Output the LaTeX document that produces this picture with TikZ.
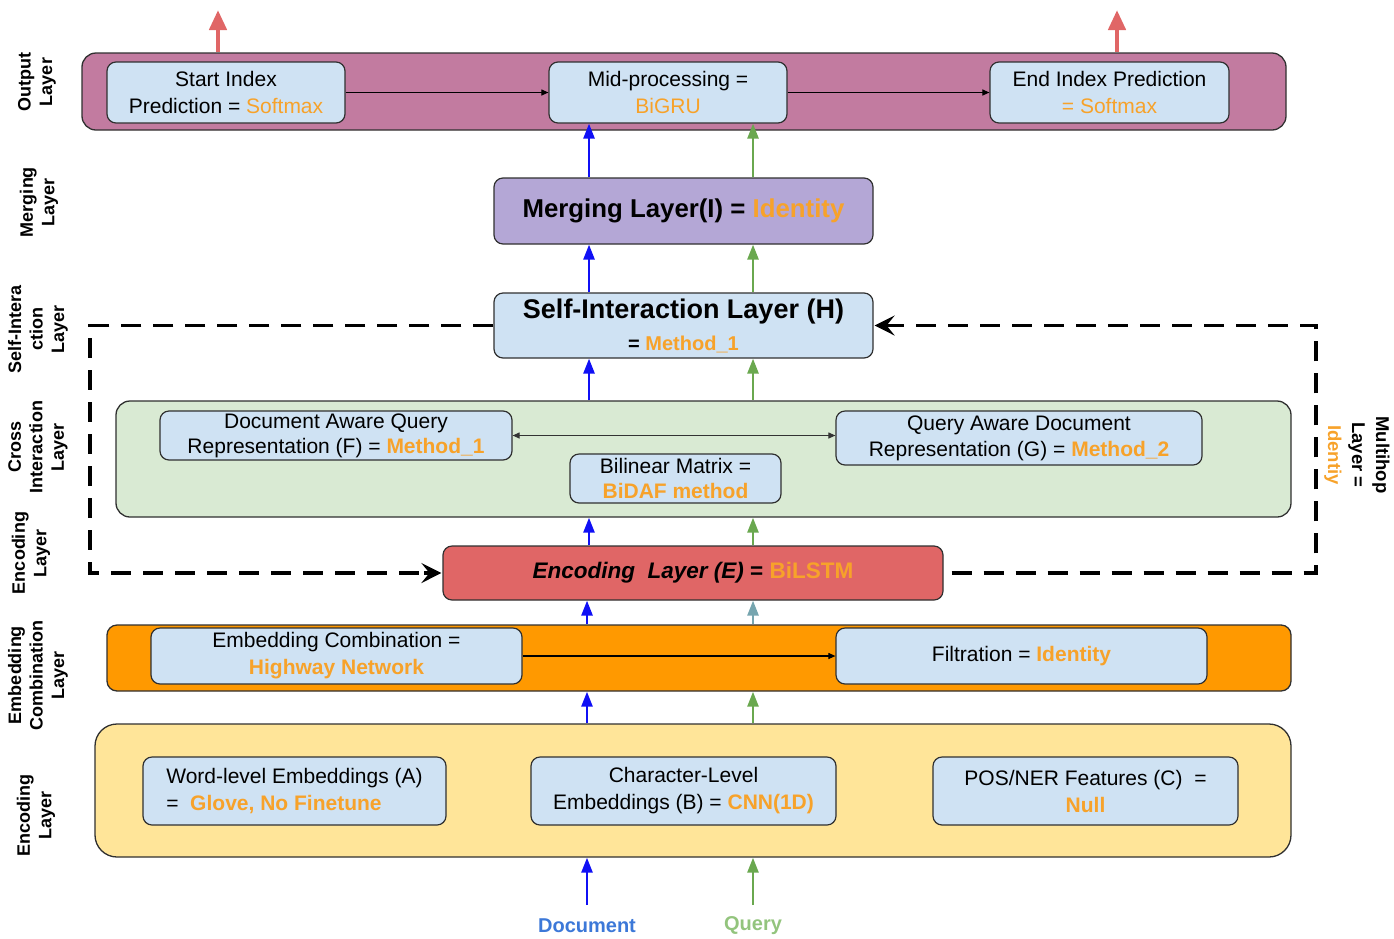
\documentclass[tikz,border=0pt]{standalone}
\usepackage{fontspec}
\setmainfont{Liberation Sans}
\usetikzlibrary{arrows.meta}
\definecolor{cOut}{HTML}{C27BA0}
\definecolor{cBlueBox}{HTML}{CFE2F3}
\definecolor{cMerge}{HTML}{B4A7D6}
\definecolor{cCross}{HTML}{D9EAD3}
\definecolor{cEnc}{HTML}{E06666}
\definecolor{cEmb}{HTML}{FF9900}
\definecolor{cYel}{HTML}{FFE599}
\definecolor{cOrT}{HTML}{F7A22A}
\definecolor{cBlueA}{HTML}{1010F5}
\definecolor{cGreenA}{HTML}{6AA84F}
\definecolor{cTealA}{HTML}{76A5AF}
\definecolor{cRedA}{HTML}{E06666}
\definecolor{cDoc}{HTML}{3C78D8}
\definecolor{cQry}{HTML}{93C47D}
\definecolor{cEdge}{HTML}{303030}
\newcommand{\mkor}[1]{\textcolor{cOrT}{#1}}
\newcommand{\mkorb}[1]{\textcolor{cOrT}{\bfseries #1}}
\begin{document}
\begin{tikzpicture}[x=1pt,y=-1pt,
  layerbox/.style={draw=cEdge, line width=1.3pt, rounded corners=14pt, inner sep=0pt},
  ibox/.style={draw=cEdge, line width=1.2pt, fill=cBlueBox, rounded corners=9pt, align=center, inner sep=0pt, font=\fontsize{21}{27}\selectfont},
  sidelab/.style={rotate=90, align=center, font=\bfseries\fontsize{18}{21.5}\selectfont},
  barrow/.style={draw=cBlueA, line width=2.6pt, -{Triangle[length=15pt,width=11pt]}},
  garrow/.style={draw=cGreenA, line width=2.6pt, -{Triangle[length=15pt,width=11pt]}},
  tarrow/.style={draw=cTealA, line width=2.6pt, -{Triangle[length=15pt,width=11pt]}},
  rarrow/.style={draw=cRedA, line width=4.5pt, -{Triangle[length=20pt,width=17pt]}},
  thinarrow/.style={draw=black, line width=1.1pt, -{Triangle[length=7pt,width=6pt]}},
  dbarrow/.style={draw=black!80, line width=1.1pt, {Triangle[length=7pt,width=6pt]}-{Triangle[length=7pt,width=6pt]}},
  loopline/.style={draw=black, line width=3.5pt, dash pattern=on 20pt off 12pt},
  looptip/.style={draw=black, line width=3.5pt, -{Stealth[length=20pt,width=20pt,inset=8pt]}}
]
\useasboundingbox (0,0) rectangle (1394,938);

% ---------- layer containers ----------
\node[layerbox, fill=cOut, minimum width=1204pt, minimum height=77pt] (out) at (684,91.5) {};
\node[layerbox, fill=cCross, minimum width=1175pt, minimum height=116pt] (cross) at (703.5,459) {};
\node[layerbox, fill=cEmb, rounded corners=10pt, minimum width=1184pt, minimum height=66pt] (emb) at (699,658) {};
\node[layerbox, fill=cYel, rounded corners=22pt, minimum width=1196pt, minimum height=133pt] (enc0) at (693,790.5) {};

% ---------- output layer ----------
\node[ibox, minimum width=238pt, minimum height=61pt] (start) at (226,92.5) {Start Index\\Prediction = \mkor{Softmax}};
\node[ibox, minimum width=238pt, minimum height=61pt] (mid) at (668,92.5) {Mid-processing =\\\mkor{BiGRU}};
\node[ibox, minimum width=239pt, minimum height=61pt] (endb) at (1109.5,92.5) {End Index Prediction\\\mkor{= Softmax}};

% ---------- merging ----------
\node[ibox, fill=cMerge, minimum width=379pt, minimum height=66pt, font=\bfseries\fontsize{25.8}{30}\selectfont] (merge) at (683.5,211) {Merging Layer(I) = \mkor{Identity}};

% ---------- self interaction ----------
\node[ibox, minimum width=379pt, minimum height=65pt, font=\bfseries\fontsize{27}{32}\selectfont] (self) at (683.5,325.5) {Self-Interaction Layer (H)\\{\fontsize{20}{24}\selectfont = \mkor{Method\_1}}};

% ---------- cross interaction ----------
\node[ibox, minimum width=352pt, minimum height=49pt, font=\fontsize{21}{25}\selectfont] (docq) at (336,435.5) {Document Aware Query\\Representation (F) = \mkorb{Method\_1}};
\node[ibox, minimum width=366pt, minimum height=54pt, font=\fontsize{21}{26}\selectfont] (qdoc) at (1019,438) {Query Aware Document\\Representation (G) = \mkorb{Method\_2}};
\node[ibox, minimum width=211pt, minimum height=49pt, font=\fontsize{21}{25}\selectfont] (bil) at (675.5,478.5) {Bilinear Matrix =\\\mkorb{BiDAF method}};

% ---------- encoding (E) ----------
\node[ibox, fill=cEnc, rounded corners=9pt, minimum width=500pt, minimum height=54pt, font=\fontsize{22.5}{27}\selectfont] (enc) at (693,573) {\textbf{\textit{Encoding\ \ Layer (E)}} \textbf{=} \mkorb{BiLSTM}};

% ---------- embedding combination ----------
\node[ibox, minimum width=371pt, minimum height=56pt] (embc) at (336.5,656) {Embedding Combination =\\\mkorb{Highway Network}};
\node[ibox, minimum width=371pt, minimum height=56pt] (filt) at (1021.5,656) {Filtration = \mkorb{Identity}};

% ---------- bottom encoding ----------
\node[ibox, align=left, minimum width=303pt, minimum height=68pt] (word) at (294.5,791) {Word-level Embeddings (A)\\=\ \ \mkorb{Glove, No Finetune}};
\node[ibox, minimum width=305pt, minimum height=68pt] (char) at (683.5,791) {Character-Level\\Embeddings (B) = \mkorb{CNN(1D)}};
\node[ibox, minimum width=305pt, minimum height=68pt] (pos) at (1085.5,791) {POS/NER Features (C)\ \ =\\\mkorb{Null}};

% ---------- inputs ----------
\node[font=\bfseries\fontsize{20}{24}\selectfont, text=cDoc] (doc) at (587,926) {Document};
\node[font=\bfseries\fontsize{20}{24}\selectfont, text=cQry] (qry) at (753,926) {Query};

% ---------- side labels ----------
\node[sidelab] (l1) at (37,82) {Output\\Layer};
\node[sidelab] (l2) at (39,202) {Merging\\Layer};
\node[sidelab] (l3) at (38,329) {Self-Intera\\ction\\Layer};
\node[sidelab] (l4) at (38,447) {Cross\\Interaction\\Layer};
\node[sidelab] (l5) at (31,553) {Encoding\\Layer};
\node[sidelab] (l6) at (38,675) {Embedding\\Combination\\Layer};
\node[sidelab] (l7) at (36,815) {Encoding\\Layer};
\node[rotate=-90, align=center, font=\bfseries\fontsize{18.5}{24}\selectfont] (multi) at (1357,455) {Multihop\\Layer =\\\mkor{Identiy}};

% ---------- helper coordinates ----------
\coordinate (bx) at (589,0);
\coordinate (gx) at (753,0);
\coordinate (bx0) at (587,0);
\coordinate (o1) at (218,10);
\coordinate (o2) at (1117,10);
\coordinate (rb) at (1316,573);
\coordinate (rt) at (1316,325.5);
\coordinate (lt) at (90,325.5);
\coordinate (lb) at (90,573);
\coordinate (din) at (0,905);

% ---------- horizontal connectors ----------
\draw[thinarrow] (start.east) -- (mid.west);
\draw[thinarrow] (mid.east) -- (endb.west);
\draw[dbarrow] (docq.east) -- (qdoc.west |- docq.east);
\draw[thinarrow] (embc.east) -- (filt.west);

% ---------- output arrows ----------
\draw[rarrow] (out.north -| o1) -- (o1);
\draw[rarrow] (out.north -| o2) -- (o2);

% ---------- vertical flow ----------
\draw[barrow] (merge.north -| bx) -- (mid.south -| bx);
\draw[garrow] (merge.north -| gx) -- (mid.south -| gx);
\draw[barrow] (self.north -| bx) -- (merge.south -| bx);
\draw[garrow] (self.north -| gx) -- (merge.south -| gx);
\draw[barrow] (cross.north -| bx) -- (self.south -| bx);
\draw[garrow] (cross.north -| gx) -- (self.south -| gx);
\draw[barrow] (enc.north -| bx) -- (cross.south -| bx);
\draw[garrow] (enc.north -| gx) -- (cross.south -| gx);
\draw[barrow] (emb.north -| bx0) -- (enc.south -| bx0);
\draw[tarrow] (emb.north -| gx) -- (enc.south -| gx);
\draw[barrow] (enc0.north -| bx0) -- (emb.south -| bx0);
\draw[garrow] (enc0.north -| gx) -- (emb.south -| gx);
\draw[barrow] (din -| doc) -- (enc0.south -| doc);
\draw[garrow] (din -| qry) -- (enc0.south -| qry);

% ---------- multihop loop ----------
\draw[loopline] ([xshift=8pt]enc.east) -- (rb) -- (rt) -- ([xshift=14pt]self.east);
\draw[looptip] ([xshift=18pt]self.east) -- ([xshift=1pt]self.east);
\draw[loopline] (self.west) -- (lt) -- (lb) -- ([xshift=-14pt]enc.west);
\draw[looptip] ([xshift=-18pt]enc.west) -- ([xshift=-1pt]enc.west);
\end{tikzpicture}
\end{document}
